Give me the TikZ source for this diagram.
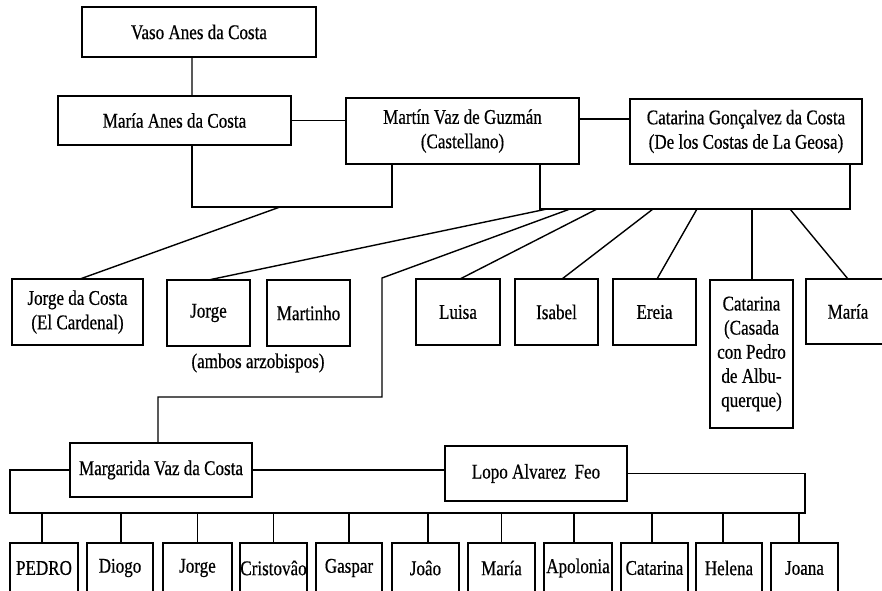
\documentclass[tikz,border=0pt]{standalone}
\usepackage{fontspec}
\setmainfont[FakeStretch=0.815,FakeBold=0.5]{Liberation Serif}
\begin{document}
\begin{tikzpicture}[x=1bp,y=-1bp,
  box/.style={draw=black, line width=1.4bp, rectangle, inner sep=0pt, outer sep=0pt,
    align=center, font=\fontsize{21}{24.5}\selectfont},
  conn/.style={draw=black, line width=1.4bp},
  lbl/.style={inner sep=0pt, font=\fontsize{21}{24.5}\selectfont}]
\useasboundingbox (0,0) rectangle (882,591);
\clip (0,0) rectangle (882,591);
\fill[white] (0,0) rectangle (882,591);
% generation 1-2
\node[box, minimum width=234bp, minimum height=50bp] (vaso) at (199,32) {Vaso Anes da Costa};
\node[box, minimum width=233bp, minimum height=49bp] (mariaA) at (174.5,120.5) {María Anes da Costa};
\node[box, minimum width=233bp, minimum height=66bp] (martin) at (462.5,131) {Martín Vaz de Guzmán\\(Castellano)};
\node[box, minimum width=232bp, minimum height=65bp] (catG) at (746,131.5) {Catarina Gonçalvez da Costa\\(De los Costas de La Geosa)};
% children row
\node[box, minimum width=131bp, minimum height=66bp] (jorgeC) at (77.5,312) {Jorge da Costa\\(El Cardenal)};
\node[box, minimum width=83bp, minimum height=66bp] (jorge) at (208.5,313) {Jorge};
\node[box, minimum width=83bp, minimum height=66bp] (martinho) at (308.5,313) {Martinho};
\node[lbl] (ambos) at (258,363) {(ambos arzobispos)};
\node[box, minimum width=84bp, minimum height=66bp] (luisa) at (458,312) {Luisa};
\node[box, minimum width=83bp, minimum height=66bp] (isabel) at (556.5,312) {Isabel};
\node[box, minimum width=83bp, minimum height=66bp] (ereia) at (654.5,312) {Ereia};
\node[box, minimum width=83bp, minimum height=148bp, font=\fontsize{21}{24.2}\selectfont] (catarina) at (751.5,354) {Catarina\\(Casada\\con Pedro\\de Albu-\\querque)};
\node[box, minimum width=84bp, minimum height=65bp] (mariaR) at (848,311.5) {María};
% third generation
\node[box, minimum width=182bp, minimum height=54bp] (margarida) at (161,470) {Margarida Vaz da Costa};
\node[box, minimum width=182bp, minimum height=55bp] (lopo) at (536,473.5) {Lopo Alvarez\ \ Feo};
% grandchildren
\node[box, minimum width=68bp, minimum height=50bp] (g1) at (44,568) {PEDRO};
\node[box, minimum width=66bp, minimum height=50bp] (g2) at (120,568) {Diogo};
\node[box, minimum width=69bp, minimum height=50bp] (g3) at (197.5,568) {Jorge};
\node[box, minimum width=67bp, minimum height=50bp] (g4) at (273.5,568) {Cristovâo};
\node[box, minimum width=66bp, minimum height=50bp] (g5) at (349,568) {Gaspar};
\node[box, minimum width=67bp, minimum height=50bp] (g6) at (425.5,568) {Joâo};
\node[box, minimum width=67bp, minimum height=50bp] (g7) at (501.5,568) {María};
\node[box, minimum width=68bp, minimum height=50bp] (g8) at (578,568) {Apolonia};
\node[box, minimum width=67bp, minimum height=50bp] (g9) at (654.5,568) {Catarina};
\node[box, minimum width=66bp, minimum height=50bp] (g10) at (729,568) {Helena};
\node[box, minimum width=67bp, minimum height=50bp] (g11) at (804.5,568) {Joana};
% junction coordinates
\coordinate (j1) at (280,207);
\coordinate (k1) at (547,209);
\coordinate (k2) at (570,209);
\coordinate (k3) at (597,209);
\coordinate (k4) at (653,209);
\coordinate (k5) at (697,209);
\coordinate (k6) at (752,209);
\coordinate (k7) at (790,209);
\coordinate (m1) at (382,278);
\coordinate (m2) at (382,397);
\coordinate (b0) at (10,513);
\coordinate (b1) at (805,513);
% connectors
\draw[conn] ([xshift=-7bp]vaso.south) -- ([xshift=17.5bp]mariaA.north);
\draw[conn] (mariaA.east) -- (mariaA.east -| martin.west);
\draw[conn] ([yshift=12bp]martin.east) -- ([yshift=12bp]martin.east -| catG.west);
\draw[conn] ([xshift=17.5bp]mariaA.south) |- (j1) -| ([xshift=-70.5bp]martin.south);
\draw[conn] ([xshift=77.5bp]martin.south) |- (k7) -| ([xshift=104bp]catG.south);
\draw[conn] (j1) -- ([xshift=2.5bp]jorgeC.north);
\draw[conn] (k1) -- (jorge.north);
\draw[conn] (k2) -- (m1) -- (m2) -| ([xshift=-3bp]margarida.north);
\draw[conn] (k3) -- ([xshift=2bp]luisa.north);
\draw[conn] (k4) -- ([xshift=5.5bp]isabel.north);
\draw[conn] (k5) -- ([xshift=2.5bp]ereia.north);
\draw[conn] (k6) -- (k6 |- catarina.north);
\draw[conn] (k7) -- (mariaR.north);
\draw[conn] (margarida.east) -- (margarida.east -| lopo.west);
\draw[conn] (margarida.west) -| (b0) -- (b1) |- (lopo.east);
\draw[conn] ([xshift=-2bp]g1.north |- b0) -- ([xshift=-2bp]g1.north);
\draw[conn] ([xshift=1bp]g2.north |- b0) -- ([xshift=1bp]g2.north);
\draw[conn] (g3.north |- b0) -- (g3.north);
\draw[conn] (g4.north |- b0) -- (g4.north);
\draw[conn] (g5.north |- b0) -- (g5.north);
\draw[conn] ([xshift=2.5bp]g6.north |- b0) -- ([xshift=2.5bp]g6.north);
\draw[conn] (g7.north |- b0) -- (g7.north);
\draw[conn] ([xshift=-4bp]g8.north |- b0) -- ([xshift=-4bp]g8.north);
\draw[conn] ([xshift=-2.5bp]g9.north |- b0) -- ([xshift=-2.5bp]g9.north);
\draw[conn] ([xshift=-6bp]g10.north |- b0) -- ([xshift=-6bp]g10.north);
\draw[conn] ([xshift=-5.5bp]g11.north |- b0) -- ([xshift=-5.5bp]g11.north);
\end{tikzpicture}
\end{document}
